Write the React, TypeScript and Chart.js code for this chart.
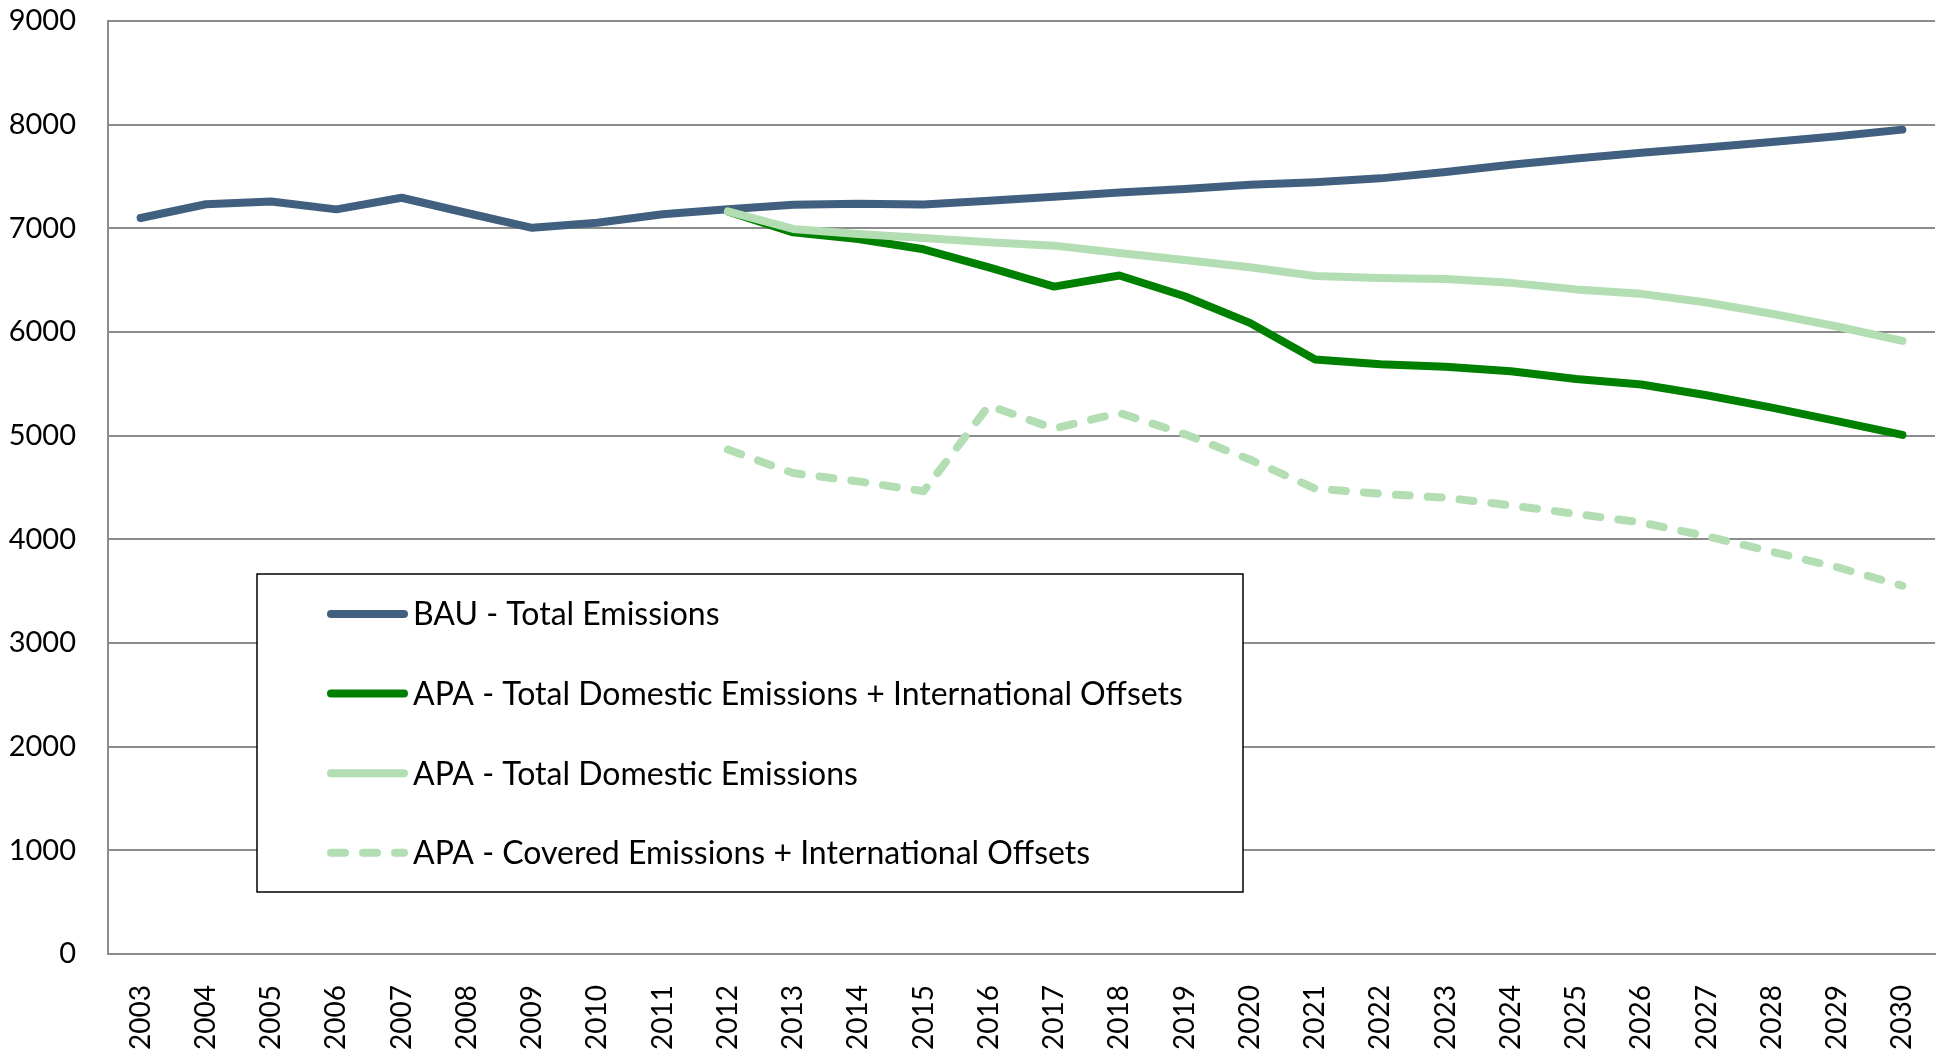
import React, { useEffect, useRef } from "react";
import { Chart, registerables } from "chart.js";

Chart.register(...registerables);

const years = [
  "2003", "2004", "2005", "2006", "2007", "2008", "2009", "2010", "2011", "2012",
  "2013", "2014", "2015", "2016", "2017", "2018", "2019", "2020", "2021", "2022",
  "2023", "2024", "2025", "2026", "2027", "2028", "2029", "2030",
];

const bauTotal = [
  7100, 7232, 7258, 7183, 7295, 7148, 7005, 7053, 7136, 7185,
  7228, 7237, 7231, 7267, 7305, 7345, 7380, 7420, 7445, 7482,
  7544, 7613, 7673, 7730, 7780, 7832, 7888, 7952,
];

const apaDomesticPlusOffsets = [
  null, null, null, null, null, null, null, null, null, 7164,
  6961, 6897, 6798, 6624, 6438, 6545, 6345, 6088, 5735, 5690,
  5665, 5622, 5546, 5493, 5390, 5270, 5141, 5008,
];

const apaDomestic = [
  null, null, null, null, null, null, null, null, null, 7164,
  6994, 6945, 6907, 6865, 6833, 6762, 6695, 6624, 6540, 6520,
  6511, 6474, 6411, 6368, 6285, 6176, 6053, 5914,
];

const apaCoveredPlusOffsets = [
  null, null, null, null, null, null, null, null, null, 4866,
  4639, 4559, 4464, 5290, 5068, 5220, 5015, 4770, 4490, 4440,
  4401, 4328, 4245, 4163, 4030, 3881, 3731, 3552,
];

const seriesLabels = [
  "BAU - Total Emissions",
  "APA - Total Domestic Emissions + International Offsets",
  "APA - Total Domestic Emissions",
  "APA - Covered Emissions + International Offsets",
];

const yMin = 0;
const yMax = 9000;
const yStep = 1000;

const FONT = "Lato, 'Open Sans', sans-serif";

const legendBoxPlugin = {
  id: "legendBox",
  afterDraw(chart: any) {
    const ctx = chart.ctx as CanvasRenderingContext2D;
    const x0 = 257;
    const y0 = 574;
    const x1 = 1243;
    const y1 = 892;
    ctx.save();
    ctx.fillStyle = "#ffffff";
    ctx.fillRect(x0, y0, x1 - x0, y1 - y0);
    ctx.strokeStyle = "#000000";
    ctx.lineWidth = 1.5;
    ctx.strokeRect(x0, y0, x1 - x0, y1 - y0);
    chart.data.datasets.forEach((ds: any, i: number) => {
      const y = 614 + i * 79.6;
      ctx.beginPath();
      ctx.setLineDash(ds.borderDash || []);
      ctx.lineCap = "round";
      ctx.lineWidth = ds.borderWidth;
      ctx.strokeStyle = ds.borderColor;
      ctx.moveTo(331, y);
      ctx.lineTo(404, y);
      ctx.stroke();
      ctx.setLineDash([]);
      ctx.fillStyle = "#000000";
      ctx.font = `32px ${FONT}`;
      ctx.textBaseline = "middle";
      ctx.textAlign = "left";
      ctx.fillText(ds.label, 413, y + 1);
    });
    ctx.restore();
  },
};

export default function App() {
  const canvasRef = useRef<HTMLCanvasElement | null>(null);

  useEffect(() => {
    if (!canvasRef.current) return;
    const common = {
      pointRadius: 0,
      pointHoverRadius: 0,
      tension: 0,
      fill: false,
      borderCapStyle: "round" as const,
      borderJoinStyle: "round" as const,
      spanGaps: false,
    };
    const chart = new Chart(canvasRef.current, {
      type: "line",
      data: {
        labels: years,
        datasets: [
          {
            ...common,
            label: seriesLabels[0],
            data: bauTotal,
            borderColor: "#41607f",
            backgroundColor: "#41607f",
            borderWidth: 8,
            order: 3,
          },
          {
            ...common,
            label: seriesLabels[1],
            data: apaDomesticPlusOffsets,
            borderColor: "#008000",
            backgroundColor: "#008000",
            borderWidth: 8,
            order: 2,
          },
          {
            ...common,
            label: seriesLabels[2],
            data: apaDomestic,
            borderColor: "#b3deb3",
            backgroundColor: "#b3deb3",
            borderWidth: 8,
            order: 1,
          },
          {
            ...common,
            label: seriesLabels[3],
            data: apaCoveredPlusOffsets,
            borderColor: "#b3deb3",
            backgroundColor: "#b3deb3",
            borderWidth: 8,
            borderDash: [14, 18],
            order: 4,
          },
        ],
      },
      options: {
        animation: false,
        responsive: true,
        maintainAspectRatio: false,
        layout: { padding: { top: 21, right: 5, left: 0, bottom: 0 } },
        plugins: {
          legend: { display: false },
          tooltip: { enabled: false },
          title: { display: false },
        },
        scales: {
          x: {
            type: "category",
            offset: true,
            grid: { display: false, drawTicks: true, tickLength: 31 },
            border: { display: true, color: "#8c8c8c", width: 2 },
            ticks: {
              autoSkip: false,
              maxRotation: 90,
              minRotation: 90,
              padding: 0,
              color: "#000000",
              font: { family: FONT, size: 28 },
            },
            afterFit(scale: any) {
              scale.height = 98;
            },
          },
          y: {
            min: yMin,
            max: yMax,
            grid: {
              color: "#8c8c8c",
              lineWidth: 2,
              drawTicks: true,
              tickLength: 32,
              tickColor: "rgba(0,0,0,0)",
            },
            border: { display: true, color: "#8c8c8c", width: 2 },
            ticks: {
              stepSize: yStep,
              padding: 0,
              color: "#000000",
              font: { family: FONT, size: 29 },
              callback: (value: any) => String(value),
            },
            afterFit(scale: any) {
              scale.width = 108;
            },
          },
        },
      },
      plugins: [legendBoxPlugin],
    });
    return () => chart.destroy();
  }, []);

  return (
    <div style={{ position: "fixed", left: 0, top: 0, width: 1940, height: 1052, background: "#ffffff" }}>
      <canvas ref={canvasRef} />
    </div>
  );
}
